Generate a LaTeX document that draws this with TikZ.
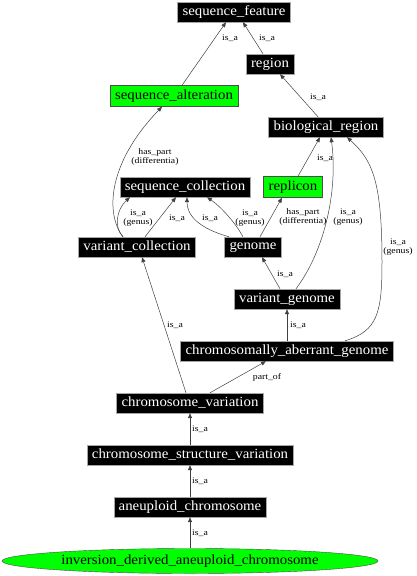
\documentclass[tikz,border=0pt]{standalone}
\usepackage{fontspec}
\setmainfont{Liberation Serif}
\newfontfamily\nodefont[FakeStretch=1.06]{Liberation Serif}
\newfontfamily\labfont[FakeStretch=1.15]{Liberation Serif}
\usetikzlibrary{arrows.meta,shapes.geometric}
\definecolor{grn}{RGB}{0,255,0}
\tikzset{
  bk/.style={rectangle,fill=black,draw=gray!70,text=white,font=\nodefont\fontsize{14}{16}\selectfont,inner xsep=5pt,inner ysep=0pt,minimum height=20pt},
  gr/.style={rectangle,fill=grn,draw=black!70,text=black,font=\nodefont\fontsize{14}{16}\selectfont,inner xsep=5pt,inner ysep=0pt,minimum height=21pt},
  gell/.style={ellipse,fill=grn,draw=black!70,text=black,font=\nodefont\fontsize{14}{16}\selectfont,inner xsep=0pt,inner ysep=0pt,minimum width=376pt,minimum height=25pt},
  lb/.style={font=\labfont\fontsize{8.5}{9}\selectfont,align=center,inner sep=0pt},
  ar/.style={draw=black!75,line width=0.5pt,-{Triangle[length=5pt,width=4pt]}},
}
\begin{document}
\begin{tikzpicture}[x=1pt,y=-1pt]
\useasboundingbox (0,0) rectangle (416,576);
% nodes
\node[bk] (sf) at (234,12) {sequence\_feature};
\node[bk] (rg) at (270,64) {region};
\node[gr] (sa) at (174,96) {sequence\_alteration};
\node[bk] (br) at (326,127) {biological\_region};
\node[bk] (sc) at (185,187) {sequence\_collection};
\node[gr] (rp) at (293,187) {replicon};
\node[bk] (vc) at (137,247) {variant\_collection};
\node[bk] (gn) at (253,247) {genome};
\node[bk] (vg) at (287,299) {variant\_genome};
\node[bk] (cag) at (287,351) {chromosomally\_aberrant\_genome};
\node[bk] (cv) at (190,403) {chromosome\_variation};
\node[bk] (csv) at (190,455) {chromosome\_structure\_variation};
\node[bk] (ac) at (190,507) {aneuploid\_chromosome};
\node[gell] (ida) at (190,561) {inversion\_derived\_aneuploid\_chromosome};
% edges
\draw[ar] ([xshift=8pt]sa.north) -- ([xshift=-8pt]sf.south);
\draw[ar] ([xshift=-7pt]rg.north) -- ([xshift=9pt]sf.south);
\draw[ar] ([xshift=-8pt]br.north) -- ([xshift=10pt]rg.south);
\draw[ar] ([xshift=-14pt]vc.north) .. controls (106,215) and (106,165) .. ([xshift=-12pt]sa.south);
\draw[ar] ([xshift=-14pt]vc.north) .. controls (114,228) and (116,210) .. ([xshift=-55pt]sc.south);
\draw[ar] ([xshift=8pt]vc.north) -- ([xshift=-9pt]sc.south);
\draw[ar] ([xshift=-24pt]gn.north) .. controls (198,228) and (187,215) .. ([xshift=2pt]sc.south);
\draw[ar] ([xshift=-10pt]gn.north) .. controls (235,222) and (220,206) .. ([xshift=22pt]sc.south);
\draw[ar] ([xshift=7pt]gn.north) -- ([xshift=-11pt]rp.south);
\draw[ar] ([xshift=5pt]rp.north) -- ([xshift=-6pt]br.south);
\draw[ar] ([xshift=9pt]vg.north) .. controls (325,250) and (338,190) .. ([xshift=5pt]br.south);
\draw[ar] ([xshift=-7pt]vg.north) -- ([xshift=9pt]gn.south);
\draw[ar] ([xshift=58pt]cag.north) .. controls (378,331) and (382,312) .. (382,262) .. controls (382,180) and (372,160) .. ([xshift=21pt]br.south);
\draw[ar] (cag.north) -- (vg.south);
\draw[ar] ([xshift=-4pt]cv.north) -- ([xshift=5pt]vc.south);
\draw[ar] ([xshift=20pt]cv.north) -- ([xshift=-21pt]cag.south);
\draw[ar] (csv.north) -- (cv.south);
\draw[ar] (ac.north) -- (csv.south);
\draw[ar] (ida.north) -- (ac.south);
% labels
\node[lb] (l1) at (230,38) {is\_a};
\node[lb] (l2) at (267,38) {is\_a};
\node[lb] (l3) at (318,97) {is\_a};
\node[lb] (l4) at (155,157) {has\_part\\(differentia)};
\node[lb] (l5) at (138,218) {is\_a\\(genus)};
\node[lb] (l6) at (177,218) {is\_a};
\node[lb] (l7) at (210,218) {is\_a};
\node[lb] (l8) at (250,218) {is\_a\\(genus)};
\node[lb] (l9) at (303,217) {has\_part\\(differentia)};
\node[lb] (l10) at (325,158) {is\_a};
\node[lb] (l11) at (348,217) {is\_a\\(genus)};
\node[lb] (l12) at (285,274) {is\_a};
\node[lb] (l13) at (398,247) {is\_a\\(genus)};
\node[lb] (l14) at (298,325) {is\_a};
\node[lb] (l15) at (175,325) {is\_a};
\node[lb] (l16) at (267,377) {part\_of};
\node[lb] (l17) at (200,429) {is\_a};
\node[lb] (l18) at (200,481) {is\_a};
\node[lb] (l19) at (200,533) {is\_a};
\end{tikzpicture}
\end{document}
